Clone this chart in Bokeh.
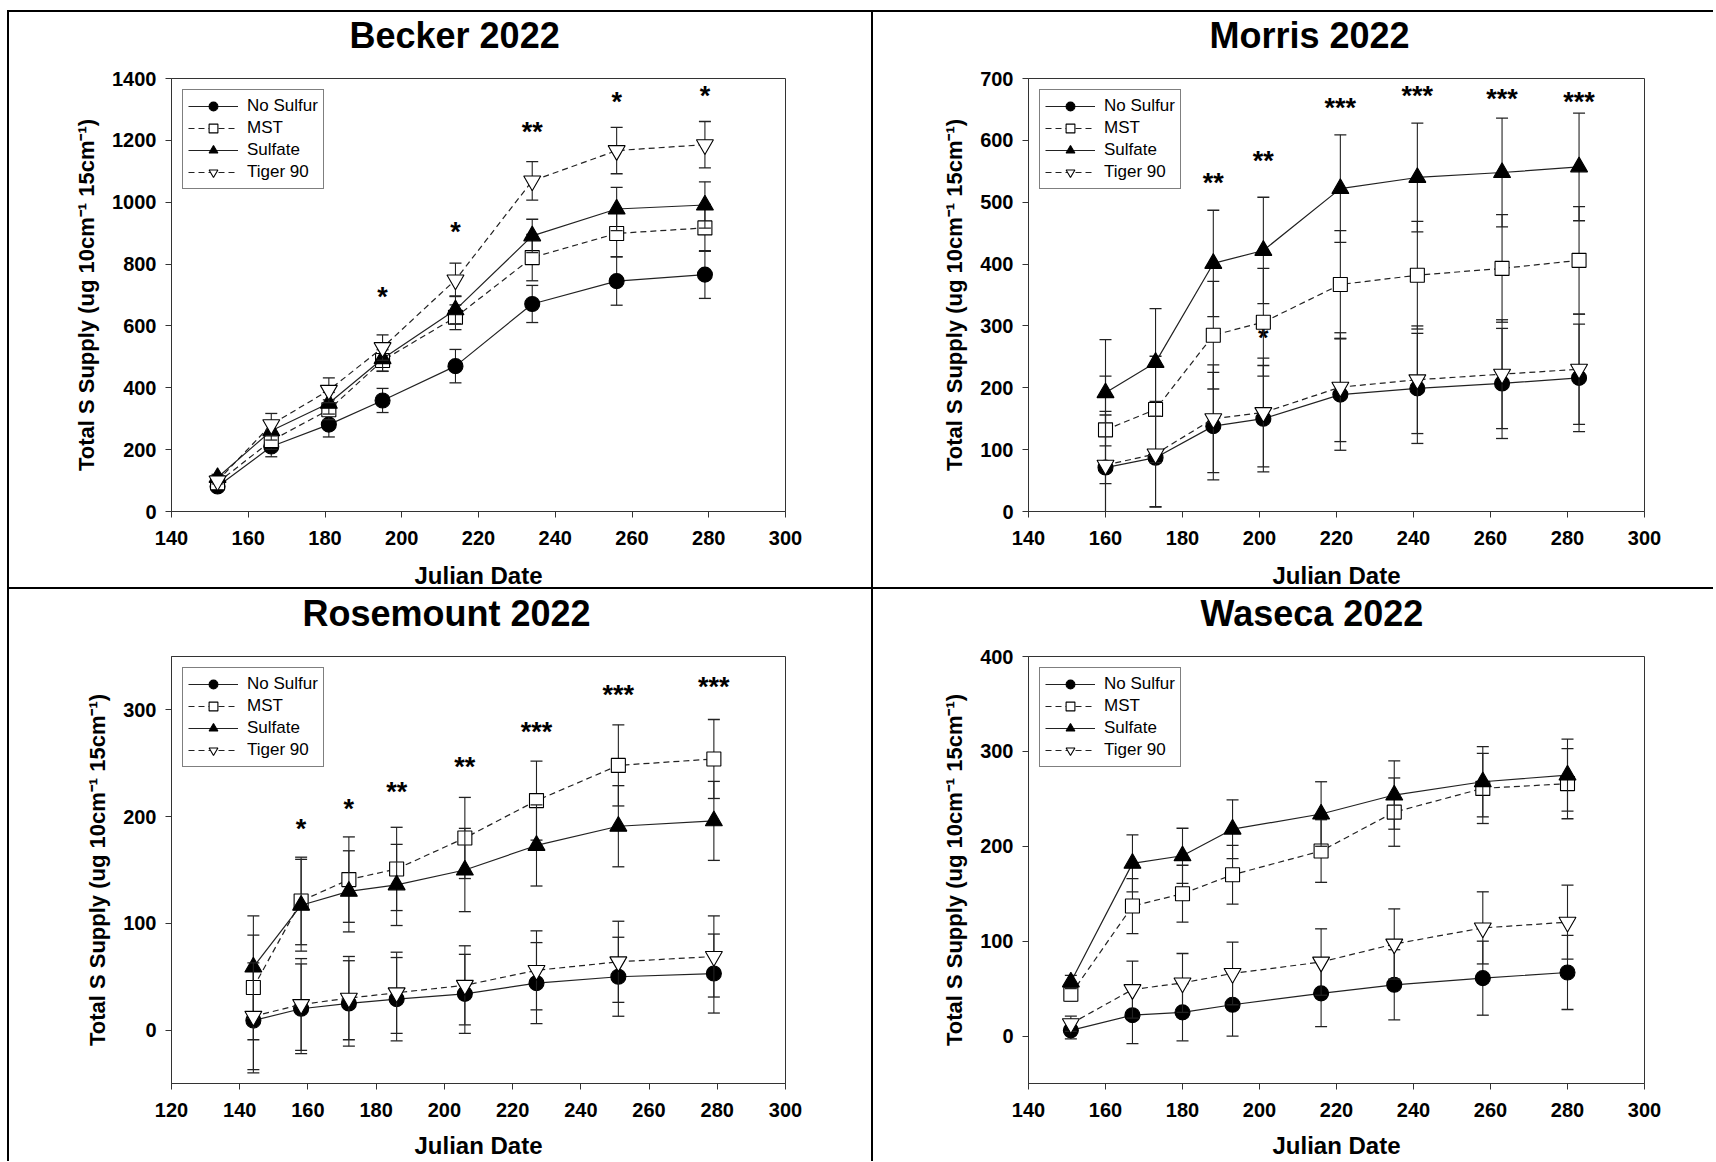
from bokeh.plotting import figure
from bokeh.layouts import gridplot
from bokeh.models import Legend, LegendItem, FixedTicker, Range1d, Title
from bokeh.core.properties import value
from bokeh.embed import file_html
from bokeh.resources import INLINE

# ---------------- data ----------------
series_names = ["No Sulfur", "MST", "Sulfate", "Tiger 90"]

becker_x = [152, 166, 181, 195, 214, 234, 256, 279]
becker_ns = [81, 210, 281, 359, 470, 671, 745, 766]
becker_ns_err = [10, 33, 40, 39, 54, 60, 78, 77]
becker_mst = [93, 229, 329, 488, 628, 821, 899, 917]
becker_mst_err = [10, 28, 32, 35, 40, 75, 75, 76]
becker_sul = [110, 261, 350, 494, 652, 891, 978, 991]
becker_sul_err = [10, 30, 35, 40, 45, 54, 70, 75]
becker_tig = [99, 281, 392, 530, 749, 1069, 1167, 1186]
becker_tig_err = [10, 36, 40, 41, 54, 62, 75, 75]
becker_sig_x = [195, 214, 234, 256, 279]
becker_sig_y = [710, 919, 1244, 1341, 1358]
becker_sig_t = ["*", "*", "**", "*", "*"]

morris_x = [160, 173, 188, 201, 221, 241, 263, 283]
morris_ns = [71, 87, 138, 150, 189, 199, 207, 216]
morris_ns_err = [85, 80, 87, 86, 90, 89, 89, 87]
morris_mst = [132, 165, 285, 306, 367, 382, 393, 406]
morris_mst_err = [87, 86, 87, 87, 87, 87, 87, 87]
morris_sul = [192, 241, 401, 422, 522, 540, 548, 557]
morris_sul_err = [86, 87, 86, 86, 87, 88, 88, 87]
morris_tig = [75, 93, 150, 160, 201, 213, 222, 230]
morris_tig_err = [87, 85, 87, 88, 88, 87, 88, 89]
morris_sig_x = [188, 201, 201, 221, 241, 263, 283]
morris_sig_y = [539, 575, 289, 661, 679, 675, 670]
morris_sig_t = ["**", "**", "*", "***", "***", "***", "***"]

rose_x = [144, 158, 172, 186, 206, 227, 251, 279]
rose_ns = [9, 20, 25, 29, 34, 44, 50, 53]
rose_ns_err = [49, 42, 40, 39, 37, 38, 37, 37]
rose_mst = [40, 121, 141, 151, 180, 215, 248, 254]
rose_mst_err = [49, 41, 40, 39, 38, 37, 38, 37]
rose_sul = [59, 117, 130, 136, 150, 173, 191, 196]
rose_sul_err = [48, 43, 38, 38, 39, 38, 38, 37]
rose_tig = [13, 24, 30, 35, 42, 56, 64, 69]
rose_tig_err = [50, 43, 39, 38, 37, 37, 38, 38]
rose_sig_x = [158, 172, 186, 206, 227, 251, 279]
rose_sig_y = [193, 212, 228, 251, 284, 319, 326]
rose_sig_t = ["*", "*", "**", "**", "***", "***", "***"]

was_x = [151, 167, 180, 193, 216, 235, 258, 280]
was_ns = [6, 22, 25, 33, 45, 54, 61, 67]
was_ns_err = [9, 30, 30, 33, 35, 37, 39, 39]
was_mst = [44, 137, 150, 170, 195, 236, 261, 266]
was_mst_err = [7, 29, 30, 31, 33, 36, 37, 37]
was_sul = [57, 182, 190, 218, 234, 254, 268, 275]
was_sul_err = [7, 30, 29, 31, 34, 36, 37, 38]
was_tig = [13, 49, 56, 66, 78, 97, 114, 120]
was_tig_err = [8, 30, 31, 33, 35, 37, 38, 39]
was_sig_x = []
was_sig_y = []
was_sig_t = []

x_ticks_a = [140, 160, 180, 200, 220, 240, 260, 280, 300]
x_ticks_b = [120, 140, 160, 180, 200, 220, 240, 260, 280, 300]
becker_y_ticks = [0, 200, 400, 600, 800, 1000, 1200, 1400]
morris_y_ticks = [0, 100, 200, 300, 400, 500, 600, 700]
rose_y_ticks = [0, 100, 200, 300]
was_y_ticks = [0, 100, 200, 300, 400]

# ---------------- style ----------------
FONT = "Liberation Sans"
LINE = "#222222"
markers = ["circle", "square", "triangle", "inverted_triangle"]
fills = ["black", "white", "black", "white"]
dashes = ["solid", "6 4", "solid", "6 4"]
msizes = [15, 14, 17, 17]
Y_LABEL = "Total S Supply (ug 10cm\u207b\u00b9 15cm\u207b\u00b9)"


def make_panel(title, title_left, x, ys, errs, sig, xr, yr, xticks, yticks,
               width, height, borders, styles, xlab_standoff=14):
    bl, br, bt, bb = borders
    p = figure(width=width, height=height, x_range=Range1d(*xr), y_range=Range1d(*yr),
               output_backend="svg", toolbar_location=None,
               min_border_left=bl, min_border_right=br, min_border_top=bt, min_border_bottom=bb,
               background_fill_color="white", border_fill_color="white",
               styles=styles)
    p.title.text = title
    p.title.align = "left"
    p.title.offset = title_left
    p.title.vertical_align = "bottom"
    p.title.standoff = 0
    p.title.text_font = FONT
    p.title.text_font_size = "36px"
    p.title.text_font_style = "bold"
    p.title.text_color = "black"
    # blank spacer between the title and the plot frame
    p.add_layout(Title(text=" ", text_font=FONT, text_font_size="10px", standoff=10), "above")

    p.xgrid.visible = False
    p.ygrid.visible = False
    p.outline_line_color = "#333333"
    p.outline_line_width = 1

    for ax in (p.xaxis[0], p.yaxis[0]):
        ax.axis_line_color = "#333333"
        ax.major_tick_line_color = "#333333"
        ax.major_tick_out = 6
        ax.major_tick_in = 0
        ax.minor_tick_line_color = None
        ax.major_label_text_font = FONT
        ax.major_label_text_font_size = "20px"
        ax.major_label_text_font_style = "bold"
        ax.major_label_text_color = "black"
        ax.axis_label_text_font = FONT
        ax.axis_label_text_font_style = "bold"
        ax.axis_label_text_color = "black"
    p.xaxis.ticker = FixedTicker(ticks=xticks, minor_ticks=[])
    p.yaxis.ticker = FixedTicker(ticks=yticks, minor_ticks=[])
    p.xaxis.major_label_standoff = 13
    p.yaxis.major_label_standoff = 9
    p.xaxis.axis_label = "Julian Date"
    p.xaxis.axis_label_text_font_size = "24px"
    p.xaxis.axis_label_standoff = xlab_standoff
    p.yaxis.axis_label = Y_LABEL
    p.yaxis.axis_label_text_font_size = "22px"
    p.yaxis.axis_label_standoff = 10

    sx, sy, st = sig
    if sx:
        p.text(x=sx, y=sy, text=st, text_font=value(FONT), text_font_style="bold",
               text_font_size="27px", text_align="center", text_baseline="alphabetic",
               y_offset=5, text_color="black")

    items = []
    for i, name in enumerate(series_names):
        y = ys[i]
        e = errs[i]
        lo = [a - b for a, b in zip(y, e)]
        hi = [a + b for a, b in zip(y, e)]
        p.segment(x0=x, y0=lo, x1=x, y1=hi, line_color=LINE, line_width=1.1)
        p.scatter(x=x + x, y=lo + hi, marker="dash", size=12, line_color=LINE, line_width=1.3)
        lr = p.line(x=x, y=y, line_color=LINE, line_width=1.2, line_dash=dashes[i])
        mr = p.scatter(x=x, y=y, marker=markers[i], size=msizes[i], fill_color=fills[i],
                       line_color="black", line_width=1.1)
        items.append(LegendItem(label=name, renderers=[lr, mr]))

    leg = Legend(items=items, location="top_left", margin=11,
                 border_line_color="black", border_line_width=1,
                 background_fill_color="white", background_fill_alpha=1,
                 label_text_font=FONT, label_text_font_size="17px",
                 label_text_color="black",
                 glyph_width=50, glyph_height=22, label_height=20,
                 spacing=0, padding=5, label_standoff=9)
    p.add_layout(leg)
    return p


BLK = "2px solid black"
p1 = make_panel("Becker 2022", 178, becker_x,
                [becker_ns, becker_mst, becker_sul, becker_tig],
                [becker_ns_err, becker_mst_err, becker_sul_err, becker_tig_err],
                (becker_sig_x, becker_sig_y, becker_sig_t),
                (140, 300), (0, 1400), x_ticks_a, becker_y_ticks,
                866, 579, (162, 83, 66, 76),
                {"border-left": BLK, "border-top": BLK, "border-right": BLK, "border-bottom": BLK})
p2 = make_panel("Morris 2022", 181, morris_x,
                [morris_ns, morris_mst, morris_sul, morris_tig],
                [morris_ns_err, morris_mst_err, morris_sul_err, morris_tig_err],
                (morris_sig_x, morris_sig_y, morris_sig_t),
                (140, 300), (0, 700), x_ticks_a, morris_y_ticks,
                840, 579, (155, 69, 66, 76),
                {"border-top": BLK, "border-bottom": BLK})
p3 = make_panel("Rosemount 2022", 131, rose_x,
                [rose_ns, rose_mst, rose_sul, rose_tig],
                [rose_ns_err, rose_mst_err, rose_sul_err, rose_tig_err],
                (rose_sig_x, rose_sig_y, rose_sig_t),
                (120, 300), (-50, 350), x_ticks_b, rose_y_ticks,
                866, 572, (156, 90, 67, 77),
                {"border-left": BLK, "border-right": BLK}, xlab_standoff=12)
p4 = make_panel("Waseca 2022", 172, was_x,
                [was_ns, was_mst, was_sul, was_tig],
                [was_ns_err, was_mst_err, was_sul_err, was_tig_err],
                (was_sig_x, was_sig_y, was_sig_t),
                (140, 300), (-50, 400), x_ticks_a, was_y_ticks,
                840, 572, (154, 69, 66, 77),
                {}, xlab_standoff=12)

grid = gridplot([[p1, p2], [p3, p4]], toolbar_location=None)
grid.styles = {"margin-left": "7px", "margin-top": "10px"}
open("out.html", "w").write(file_html(grid, INLINE))
